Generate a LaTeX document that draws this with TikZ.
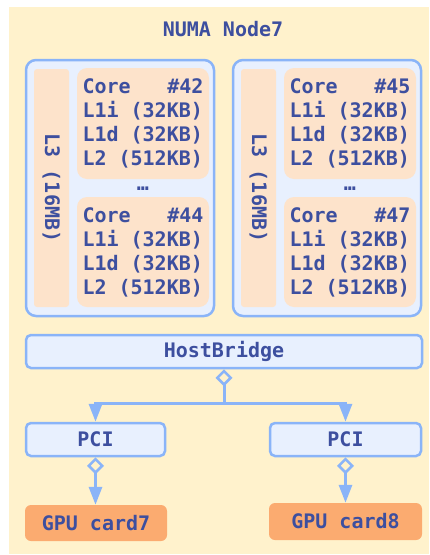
\documentclass[tikz,border=0pt]{standalone}
\usepackage{fontspec}
\setmonofont{DejaVu Sans Mono}
\usetikzlibrary{arrows.meta}

\definecolor{bgyellow}{HTML}{FFF2CC}
\definecolor{paleblue}{HTML}{E8F0FE}
\definecolor{edgeblue}{HTML}{8AB4F8}
\definecolor{peach}{HTML}{FDE3CB}
\definecolor{gpuorange}{HTML}{FBAB70}
\definecolor{ink}{HTML}{3D4F9F}

% one monospace cell of blank space
\newcommand{\msp}{\kern0.602em\relax}

\tikzset{
  txt/.style={font=\ttfamily\bfseries\fontsize{20}{24}\selectfont, text=ink, inner sep=0pt},
  cpubox/.style={draw=edgeblue, line width=2.5pt, fill=paleblue, rounded corners=10pt,
                 inner sep=0pt, minimum width=188pt, minimum height=256pt},
  l3bar/.style={txt, fill=peach, rounded corners=3pt, minimum width=238pt,
                minimum height=35pt, rotate=-90},
  corebox/.style={txt, fill=peach, rounded corners=10pt, minimum width=132pt,
                  text width=121pt, align=left},
  busbox/.style={txt, draw=edgeblue, line width=2.5pt, fill=paleblue, rounded corners=5pt,
                 minimum height=33pt},
  gpubox/.style={txt, fill=gpuorange, rounded corners=6pt},
  link/.style={draw=edgeblue, line width=3pt},
  owntip/.tip={Diamond[open, length=17pt, width=17pt, line width=2.5pt]},
  headtip/.tip={Triangle[length=18pt, width=13pt]},
  ownlink/.style={link, owntip-headtip},
  tolink/.style={link, -headtip},
}

\newcommand{\corelines}[1]{Core\hfill\##1\\L1i\msp(32KB)\\L1d\msp(32KB)\\L2\msp(512KB)}

\begin{document}
\begin{tikzpicture}[x=1pt, y=-1pt]
  \useasboundingbox (0,0) rectangle (429,555);
  \fill[bgyellow] (9,7) rectangle (429,554);

  \node[txt] (title) at (223,29) {NUMA\msp Node7};

  % first socket
  \node[cpubox] (cpu1) at (120,188) {};
  \node[l3bar] (l3a) at (51.5,188) {L3\msp(16MB)};
  \node[corebox, minimum height=111pt] (c42) at (143,123.5) {\corelines{42}};
  \node[txt] (dots1) at (143,189) {…};
  \node[corebox, minimum height=110pt] (c44) at (143,252) {\corelines{44}};

  % second socket
  \node[cpubox] (cpu2) at (327,188) {};
  \node[l3bar] (l3b) at (258.5,188) {L3\msp(16MB)};
  \node[corebox, minimum height=111pt] (c45) at (350,123.5) {\corelines{45}};
  \node[txt] (dots2) at (350,189) {…};
  \node[corebox, minimum height=110pt] (c47) at (350,252) {\corelines{47}};

  % I/O tree
  \node[busbox, minimum width=396pt] (hb) at (224,351.5) {HostBridge};
  \node[busbox, minimum width=139pt] (pci1) at (95.5,439.5) {PCI};
  \node[busbox, minimum width=151pt] (pci2) at (345.5,439.5) {PCI};
  \node[gpubox, minimum width=142pt, minimum height=36pt] (gpu1) at (96,523) {GPU\msp card7};
  \node[gpubox, minimum width=153pt, minimum height=37pt] (gpu2) at (345.5,521.5) {GPU\msp card8};

  \coordinate (split) at (224,403);
  \draw[link, owntip-] (hb.south) -- (split);
  \draw[tolink] (split) -| (pci1.north);
  \draw[tolink] (split) -| (pci2.north);
  \draw[ownlink] (pci1.south) -- (pci1.south |- gpu1.north);
  \draw[ownlink] (pci2.south) -- (pci2.south |- gpu2.north);
\end{tikzpicture}
\end{document}
